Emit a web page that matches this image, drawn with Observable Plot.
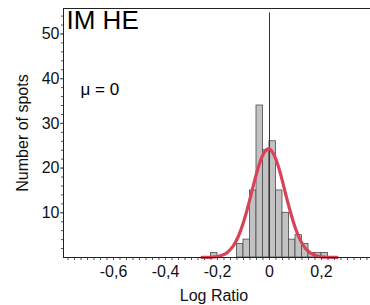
<!DOCTYPE html>
<html><head><meta charset="utf-8">
<script src="https://cdn.jsdelivr.net/npm/d3@7"></script>
<script src="https://cdn.jsdelivr.net/npm/@observablehq/plot@0.6"></script>
<style>body{margin:0;background:#fff}</style>
</head><body><div id="chart"></div>
<script>
// Histogram bins (Log Ratio) and counts
const binLo = [-0.225,-0.125,-0.1,-0.075,-0.05,-0.025,0,0.025,0.05,0.075,0.1,0.125,0.15,0.175,0.2];
const binHi = [-0.2,-0.1,-0.075,-0.05,-0.025,0,0.025,0.05,0.075,0.1,0.125,0.15,0.175,0.2,0.225];
const counts = [1,3,4,15,34,24,26,15,10,4,5,3,1,1,1];
// Fitted curve
const fitX = [-0.26,-0.24,-0.22,-0.20,-0.18,-0.16,-0.14,-0.12,-0.10,-0.08,-0.06,-0.04,-0.02,0,0.02,0.04,0.06,0.08,0.10,0.12,0.14,0.16,0.18,0.20,0.22,0.24,0.26];
const fitY = [0.01,0.03,0.08,0.22,0.55,1.25,2.54,4.70,7.89,12.0,16.6,20.7,23.5,24.25,22.6,19.2,14.7,10.3,6.49,3.72,1.93,0.91,0.39,0.15,0.05,0.02,0.01];
const xTicks = [-0.6,-0.4,-0.2,0,0.2];
const yTicks = [10,20,30,40,50];
const xDomain = [-0.7923, 0.3885];
const yDomain = [0, 55.7];
const meanLine = [0];
const meanTop = 54.7;

const bars = binLo.map((lo,i)=>({x1:lo, x2:binHi[i], y:counts[i]}));
const fit = fitX.map((x,i)=>({x, y:fitY[i]}));
const minorX = d3.range(-31,16).map(i=>i*0.025);
const minorY = d3.range(1,28).map(i=>i*2);
const loc = d3.formatLocale({decimal:",", thousands:".", grouping:[3], currency:["",""], minus:"-"});
const fmt = loc.format(".1~f");

const chart = Plot.plot({
  width: 370, height: 305,
  marginLeft: 63, marginTop: 8, marginBottom: 48, marginRight: 0,
  style: {fontFamily: "Liberation Sans, Arial, sans-serif", background: "#fff", color: "#111"},
  x: {domain: xDomain},
  y: {domain: yDomain},
  marks: [
    Plot.rectY(bars, {x1:"x1", x2:"x2", y:"y", fill:"#c2c2c2", stroke:"#4a4a4a", strokeWidth:0.8}),
    Plot.ruleX(meanLine, {y1:0, y2:meanTop, stroke:"#333", strokeWidth:1}),
    Plot.line(fit, {x:"x", y:"y", stroke:"#d9435a", strokeWidth:3.2, curve:"natural"}),
    Plot.axisX(minorX, {tickSize:3, tickFormat:()=>"", label:null, stroke:"#555"}),
    Plot.axisX(xTicks, {tickSize:3, tickPadding:5, tickFormat:fmt, fontSize:16, label:null, stroke:"#555"}),
    Plot.text(["Log Ratio"], {frameAnchor:"bottom", dx:-3, dy:43, fontSize:16, lineAnchor:"bottom", fill:"#111"}),
    Plot.axisY(minorY, {tickSize:2, tickFormat:()=>"", label:null, stroke:"#555"}),
    Plot.axisY(yTicks, {tickSize:3, tickPadding:1, fontSize:16, label:"Number of spots", labelAnchor:"center", labelOffset:47, labelArrow:"none", stroke:"#555"}),
    Plot.frame({anchor:"left", stroke:"#222"}),
    Plot.frame({anchor:"top", stroke:"#222"}),
    Plot.ruleY([0], {stroke:"#222"}),
    Plot.text(["IM HE"], {frameAnchor:"top-left", dx:3, dy:2, fontSize:26, textAnchor:"start", lineAnchor:"top", fill:"#000"}),
    Plot.text(["μ = 0"], {frameAnchor:"top-left", dx:17, dy:74, fontSize:17, textAnchor:"start", lineAnchor:"top", fill:"#000"})
  ]
});
document.getElementById("chart").appendChild(chart);
</script>
</body></html>
